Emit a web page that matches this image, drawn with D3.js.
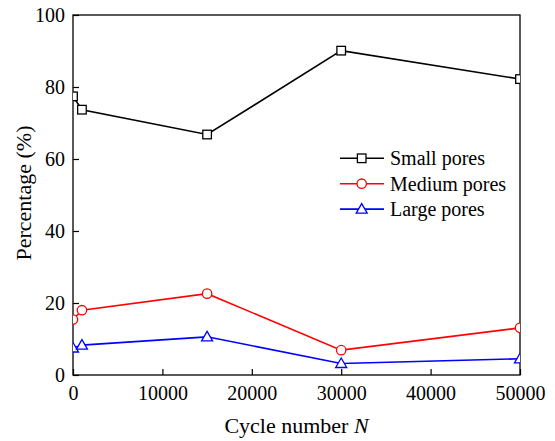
<!DOCTYPE html>
<html><head><meta charset="utf-8">
<script src="https://cdn.jsdelivr.net/npm/d3@7"></script>
<style>body{margin:0;background:#fff}svg{display:block}</style>
</head><body>
<svg id="c" width="555" height="441"></svg>
<script>
const cycles = [0, 1000, 15000, 30000, 50000];
const smallPores = [77.4, 73.7, 66.8, 90.1, 82.2];
const mediumPores = [15.4, 18.0, 22.6, 6.9, 13.1];
const largePores = [7.5, 8.3, 10.6, 3.2, 4.5];
const seriesNames = ["Small pores", "Medium pores", "Large pores"];
const xTicks = [0, 10000, 20000, 30000, 40000, 50000];
const yTicks = [0, 20, 40, 60, 80, 100];

const FONT = "Liberation Serif";
const svg = d3.select("#c").attr("font-family", FONT);
const L = 73, T = 15, R = 520, B = 375;
const x = d3.scaleLinear().domain([0, 50000]).range([L, R]);
const y = d3.scaleLinear().domain([0, 100]).range([B, T]);

svg.append("defs").append("clipPath").attr("id","clip")
  .append("rect").attr("x",L).attr("y",T).attr("width",R-L).attr("height",B-T);

svg.append("rect").attr("x",L).attr("y",T).attr("width",R-L).attr("height",B-T)
  .attr("fill","none").attr("stroke","#000").attr("stroke-width",1.3);

const gx = svg.append("g").attr("transform",`translate(0,${B})`);
gx.call(d3.axisBottom(x).tickValues(d3.range(5000,50000,10000)).tickSize(-4).tickFormat(""));
gx.call(d3.axisBottom(x).tickValues(xTicks).tickSize(-6).tickPadding(11).tickFormat(d3.format("d")));
gx.attr("font-family", FONT).attr("font-size", 20);
gx.selectAll(".domain").remove();
gx.selectAll("line").attr("stroke","#000").attr("stroke-width",1.2);
gx.selectAll("text").attr("fill","#000");

const gy = svg.append("g").attr("transform",`translate(${L},0)`);
gy.call(d3.axisLeft(y).tickValues(d3.range(10,100,20)).tickSize(-4).tickFormat(""));
gy.call(d3.axisLeft(y).tickValues(yTicks).tickSize(-6).tickPadding(8).tickFormat(d3.format("d")));
gy.attr("font-family", FONT).attr("font-size", 20);
gy.selectAll(".domain").remove();
gy.selectAll("line").attr("stroke","#000").attr("stroke-width",1.2);
gy.selectAll("text").attr("fill","#000");

const xt = svg.append("text").attr("x",(L+R)/2).attr("y",433).attr("text-anchor","middle").attr("font-size",22);
xt.append("tspan").text("Cycle number ");
xt.append("tspan").attr("font-style","italic").text("N");
svg.append("text").attr("transform","translate(31,193) rotate(-90)").attr("text-anchor","middle")
  .attr("font-size",22).text("Percentage (%)");

const series = [
  {name: seriesNames[0], vals: smallPores, color: "#000", shape: "square"},
  {name: seriesNames[1], vals: mediumPores, color: "#ff0000", shape: "circle"},
  {name: seriesNames[2], vals: largePores, color: "#0000ff", shape: "triangle"}
];

function marker(g, shape, cx, cy, color) {
  if (shape === "square") {
    g.append("rect").attr("x",cx-4.3).attr("y",cy-4.3).attr("width",8.6).attr("height",8.6)
      .attr("fill","#fff").attr("stroke",color).attr("stroke-width",1.3);
  } else if (shape === "circle") {
    g.append("circle").attr("cx",cx).attr("cy",cy).attr("r",4.7)
      .attr("fill","#fff").attr("stroke",color).attr("stroke-width",1.3);
  } else {
    g.append("path").attr("d",`M${cx},${cy-5.5}L${cx+5.5},${cy+4}L${cx-5.5},${cy+4}Z`)
      .attr("fill","#fff").attr("stroke",color).attr("stroke-width",1.3);
  }
}

const plot = svg.append("g").attr("clip-path","url(#clip)");
const line = d3.line().x((d,i)=>x(cycles[i])).y(d=>y(d));
series.forEach(s => {
  plot.append("path").datum(s.vals).attr("d", line).attr("fill","none")
    .attr("stroke", s.color).attr("stroke-width", 1.6);
  s.vals.forEach((v,i) => marker(plot, s.shape, x(cycles[i]), y(v), s.color));
});

const lg = svg.append("g");
series.forEach((s,i) => {
  const yy = 158.3 + i*25.4;
  lg.append("line").attr("x1",340).attr("x2",384).attr("y1",yy).attr("y2",yy)
    .attr("stroke",s.color).attr("stroke-width",1.6);
  marker(lg, s.shape, 361.7, yy, s.color);
  lg.append("text").attr("x",390).attr("y",yy+7).attr("font-size",20).attr("fill","#000").text(s.name);
});
</script>
</body></html>
